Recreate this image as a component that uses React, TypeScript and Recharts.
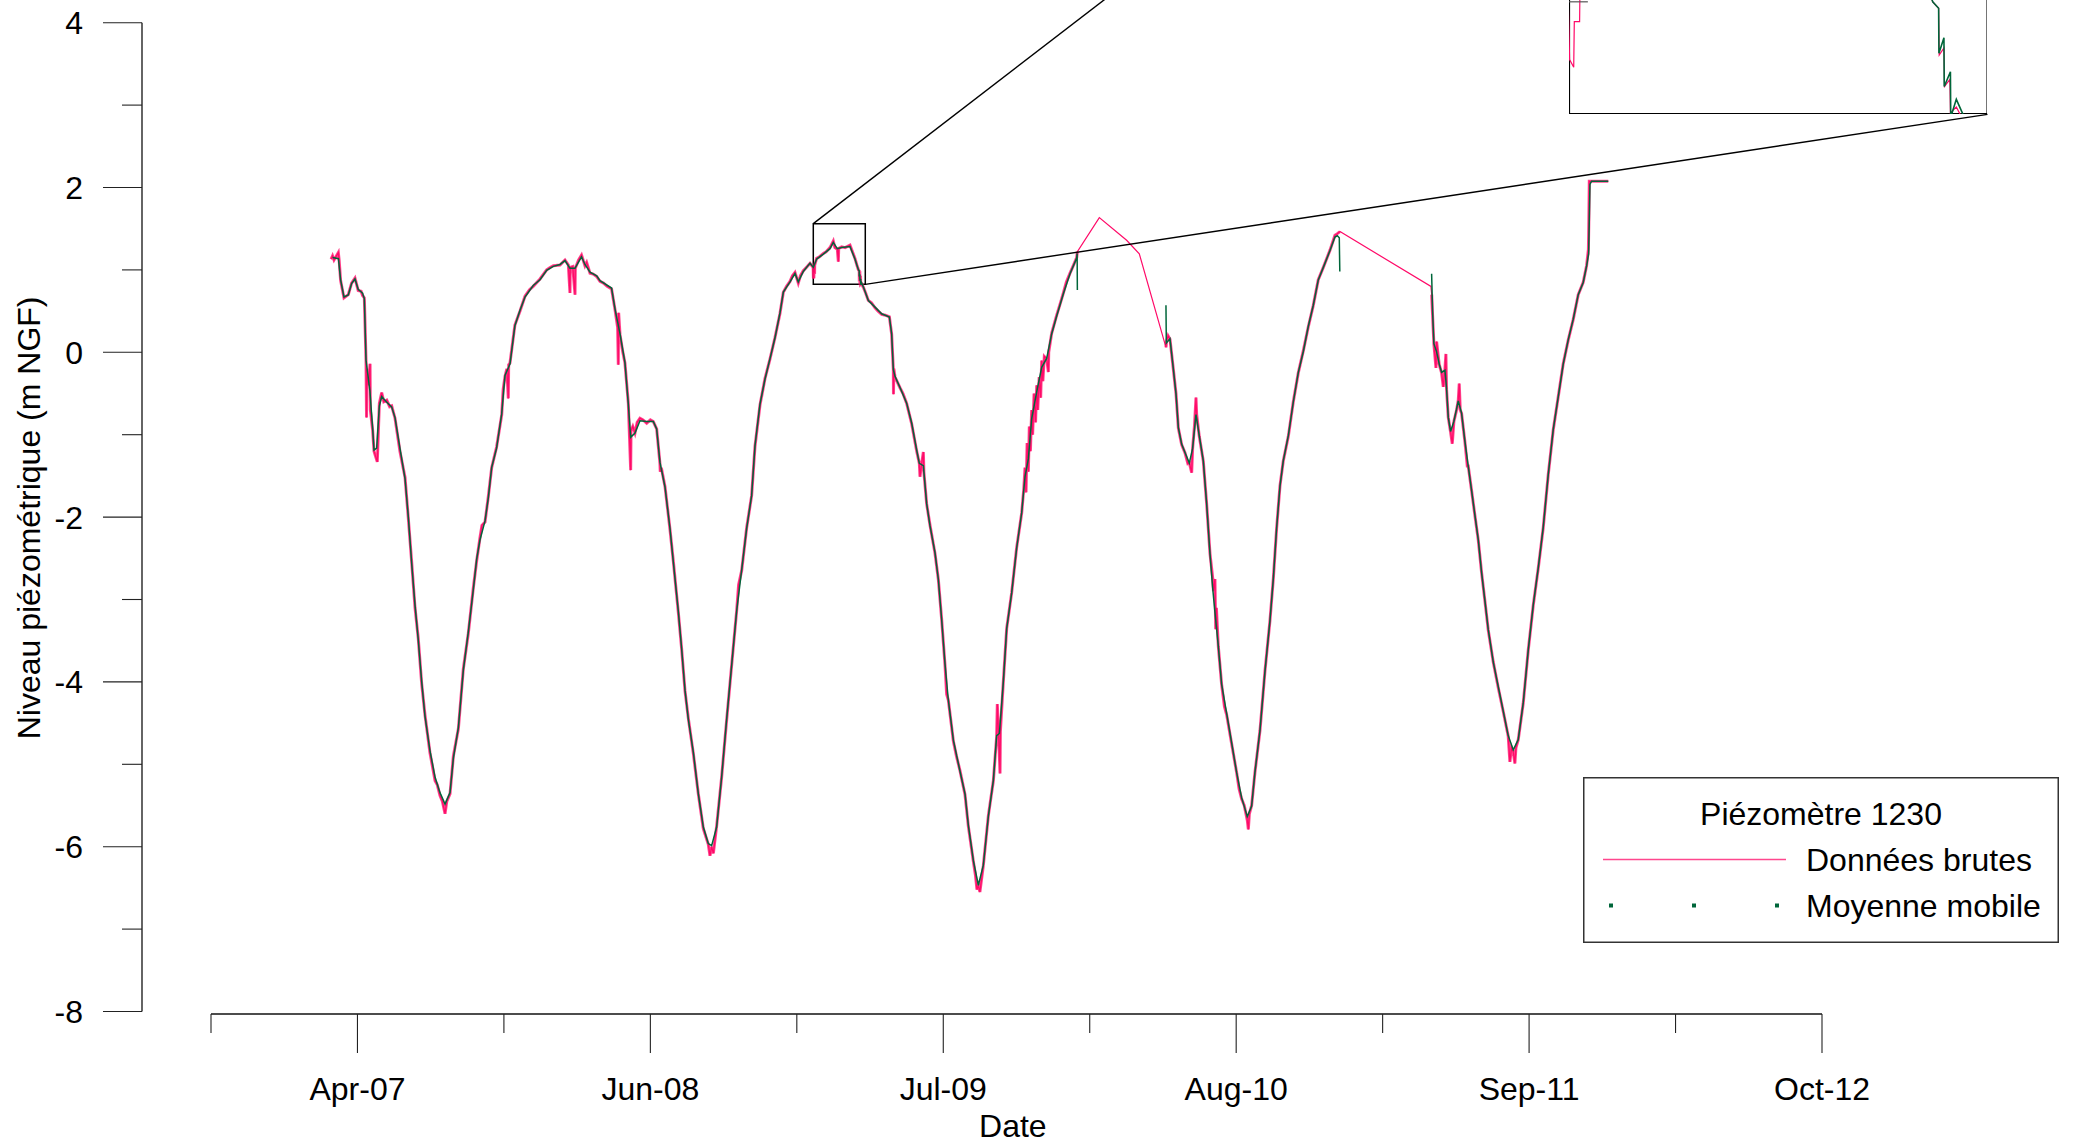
import { LineChart, Line, XAxis, YAxis, ReferenceLine, ReferenceArea, Legend } from 'recharts'

// axe des dates : jours comptés depuis le premier repère (un repère tous les 200 jours)
const X_TICKS = [0, 200, 400, 600, 800, 1000, 1200, 1400, 1600, 1800, 2000, 2200]
const X_LABELS = ['Apr-07', 'Jun-08', 'Jul-09', 'Aug-10', 'Sep-11', 'Oct-12']
const Y_TICKS = [-8, -7, -6, -5, -4, -3, -2, -1, 0, 1, 2, 3, 4]

// périodes sans mesures continues (pas de moyenne mobile)
const GAPS = [[1183.5, 1303.9], [1541.8, 1666.5]]

// [jour, niveau m NGF]
const MOYENNE = [
  [166, 1.15], [174, 1.136], [177, 0.88], [181.6, 0.671], [187.5, 0.695], [192, 0.834], [196.6, 0.89],
  [201, 0.764], [207, 0.718], [209.4, 0.648], [211.7, -0.095], [217, -0.467], [220.8, -0.931],
  [222.6, -1.187], [226.2, -1.164], [229.9, -0.653], [233.1, -0.536], [240, -0.606], [246.7, -0.662],
  [251.3, -0.792], [258, -1.164], [265, -1.535], [269.5, -2.0], [274, -2.557], [278.6, -3.068],
  [283, -3.486], [287.7, -3.997], [292.2, -4.415], [299, -4.833], [306, -5.158], [312.7, -5.344],
  [319.6, -5.483], [326.4, -5.344], [331, -4.926], [337.8, -4.554], [344.6, -3.857], [351.4, -3.393],
  [358.2, -2.882], [362.8, -2.511], [367.3, -2.278], [374.2, -2.046], [378.7, -1.767], [383.3, -1.396],
  [390, -1.164], [397, -0.745], [401.5, -0.281], [408.3, -0.142], [415, 0.323], [422, 0.509],
  [428.8, 0.671], [440, 0.811], [449.3, 0.88], [458.4, 0.996], [467.5, 1.043], [476.6, 1.066],
  [483.4, 1.113], [490.2, 1.02], [497, 1.02], [506, 1.159], [510.7, 1.066], [517.6, 0.973],
  [526.7, 0.927], [531.2, 0.87], [547, 0.78], [551.7, 0.528], [558.5, 0.226], [565.3, -0.126],
  [569.9, -0.629], [573.1, -1.031], [579, -0.981], [585.8, -0.83], [595, -0.84], [604, -0.84],
  [608.6, -0.931], [613.1, -1.333], [620, -1.635], [626.8, -2.138], [631.3, -2.541], [638.2, -3.145],
  [642.7, -3.597], [647.3, -4.1], [651.8, -4.452], [658.7, -4.855], [665.5, -5.358], [672.3, -5.761],
  [679.1, -5.962], [683.7, -5.987], [690.5, -5.761], [697.3, -5.157], [704.2, -4.452], [711, -3.798],
  [717.8, -3.144], [724.7, -2.641], [731.5, -2.138], [738.3, -1.736], [742.9, -1.132], [749.7, -0.629],
  [756.5, -0.327], [763.4, -0.076], [770.2, 0.176], [777, 0.478], [781.6, 0.73], [790.7, 0.855],
  [797.5, 0.956], [802, 0.855], [808.9, 0.981], [818, 1.082], [822.5, 1.031], [827.1, 1.132],
  [836.2, 1.192], [845.3, 1.258], [849.8, 1.333], [855.3, 1.258], [861.2, 1.273], [872.6, 1.283],
  [879.4, 1.132], [882, 1.06], [884.2, 1.0], [885.2, 0.99], [885.25, 0.92], [886.1, 0.944],
  [886.15, 0.868], [887.2, 0.891], [887.25, 0.82], [888.2, 0.848], [890.9, 0.792], [897.7, 0.629],
  [906.8, 0.548], [915.9, 0.467], [926.4, 0.429], [929.5, 0.223], [931.8, -0.21], [934.1, -0.292],
  [940.9, -0.427], [950, -0.617], [956.9, -0.861], [963.7, -1.186], [967.3, -1.348], [972.8, -1.375],
  [977.3, -1.836], [981.9, -2.107], [988.7, -2.432], [993.3, -2.757], [997.8, -3.245], [1002.4, -3.786],
  [1006.9, -4.22], [1013.8, -4.707], [1022.9, -5.087], [1029.7, -5.358], [1034.2, -5.737],
  [1041.1, -6.17], [1047.9, -6.468], [1054.7, -6.225], [1061.6, -5.628], [1068.4, -5.195],
  [1072.9, -4.653], [1076.6, -4.626], [1082, -4.003], [1086.6, -3.353], [1093.4, -2.92],
  [1100.2, -2.378], [1107.1, -1.944], [1111.6, -1.511], [1116.2, -1.294], [1120.7, -0.807],
  [1127.6, -0.481], [1134.4, -0.183], [1141.2, -0.075], [1148, 0.223], [1154.9, 0.44], [1164, 0.711],
  [1173.1, 0.954], [1182.2, 1.144], [1182.8, 1.2], [1183.1, 0.756],
  [1304.1, 0.571], [1304.6, 0.112], [1309.6, 0.163], [1314.1, -0.195], [1317.8, -0.501], [1321, -0.91],
  [1325.5, -1.114], [1330.1, -1.217], [1336, -1.344], [1340.5, -1.166], [1345.1, -0.757],
  [1349.6, -1.012], [1355.1, -1.318], [1359.6, -1.829], [1364.2, -2.442], [1367.8, -2.851],
  [1371, -3.157], [1375.6, -3.566], [1380.1, -4.026], [1387, -4.383], [1393.8, -4.741], [1400.6, -5.098],
  [1407.4, -5.405], [1415.2, -5.635], [1421.1, -5.507], [1425.6, -5.098], [1432.5, -4.588],
  [1439.3, -3.873], [1446.1, -3.26], [1450.7, -2.749], [1455.2, -2.136], [1459.8, -1.625],
  [1464.3, -1.318], [1471.2, -1.012], [1478, -0.603], [1484.8, -0.246], [1491.7, 0.01], [1498.5, 0.316],
  [1505.3, 0.571], [1512.1, 0.878], [1519, 1.031], [1528.1, 1.235], [1534.9, 1.399], [1538.1, 1.414],
  [1540.8, 1.389], [1541.5, 0.98],
  [1666.9, 0.954], [1668.2, 0.5], [1670, 0.104], [1673.7, 0.005], [1677.3, -0.143], [1680.5, -0.242],
  [1685.1, -0.218], [1687.3, -0.44], [1689.6, -0.787], [1692.8, -0.961], [1697.3, -0.837],
  [1703.3, -0.589], [1707.8, -0.738], [1712.4, -1.085], [1716.9, -1.382], [1721.5, -1.679],
  [1726, -1.976], [1730.6, -2.273], [1735.1, -2.67], [1739.7, -3.017], [1744.2, -3.363], [1751.1, -3.76],
  [1757.9, -4.057], [1764.7, -4.354], [1771.5, -4.651], [1778.4, -4.825], [1785.2, -4.701],
  [1792, -4.255], [1798.9, -3.611], [1805.7, -3.066], [1812.5, -2.62], [1819.3, -2.125],
  [1826.2, -1.481], [1833, -0.936], [1839.8, -0.54], [1846.6, -0.143], [1853.5, 0.154], [1860.3, 0.402],
  [1867.1, 0.699], [1873.9, 0.848], [1878.5, 1.046], [1881.3, 1.194], [1882.2, 1.591], [1883.1, 2.036],
  [1885.3, 2.076], [1908.1, 2.076],
]

const BRUTES = [
  [164, 1.13], [166, 1.17], [168, 1.12], [170, 1.15], [173.9, 1.21], [175, 1.12], [177, 0.87],
  [181.6, 0.66], [187.5, 0.7], [192, 0.84], [196.6, 0.9], [201, 0.75], [205, 0.74], [207, 0.69],
  [209.4, 0.66], [211.7, -0.1], [212.4, -0.79], [213, -0.2], [215, -0.4], [217.2, -0.14], [217.6, -0.7],
  [220.8, -0.95], [222.6, -1.2], [227.1, -1.33], [228, -1.1], [229.9, -0.62], [233.1, -0.49],
  [236, -0.6], [240, -0.58], [244, -0.66], [246.7, -0.65], [251.3, -0.8], [258, -1.2], [265, -1.52],
  [269.5, -2.02], [274, -2.54], [278.6, -3.1], [283, -3.47], [287.7, -4.02], [292.2, -4.4], [299, -4.86],
  [306, -5.2], [309, -5.25], [312.7, -5.38], [316, -5.45], [319.6, -5.6], [322, -5.45], [326.4, -5.36],
  [331, -4.9], [337.8, -4.57], [344.6, -3.84], [351.4, -3.41], [358.2, -2.86], [362.8, -2.53],
  [367.3, -2.25], [370, -2.1], [374.2, -2.06], [378.7, -1.75], [383.3, -1.4], [390, -1.15], [397, -0.76],
  [399, -0.45], [401.5, -0.29], [404, -0.2], [406, -0.56], [406.5, -0.15], [408.3, -0.13], [415, 0.33],
  [422, 0.5], [428.8, 0.68], [435, 0.76], [440, 0.8], [449.3, 0.89], [458.4, 1.0], [463, 1.03],
  [467.5, 1.05], [476.6, 1.06], [483.4, 1.12], [488, 1.06], [490.2, 0.72], [490.6, 1.03], [494, 1.04],
  [497.1, 0.7], [497.5, 1.02], [502, 1.12], [506, 1.18], [510.7, 1.05], [513, 1.09], [517.6, 0.96],
  [522, 0.95], [526.7, 0.92], [531.2, 0.86], [536, 0.84], [541, 0.8], [547, 0.77], [551.7, 0.52],
  [555.3, 0.3], [556.2, -0.15], [556.7, 0.48], [558.5, 0.22], [562, 0.02], [565.3, -0.13],
  [569.9, -0.62], [573.1, -1.43], [573.6, -0.95], [576, -0.9], [579, -0.98], [582, -0.85], [585.8, -0.8],
  [590, -0.82], [595, -0.86], [600, -0.82], [604, -0.84], [608.6, -0.93], [613.1, -1.35], [613.5, -1.45],
  [615, -1.4], [620, -1.63], [626.8, -2.15], [631.3, -2.53], [638.2, -3.16], [642.7, -3.6],
  [647.3, -4.11], [651.8, -4.44], [658.7, -4.87], [665.5, -5.36], [672.3, -5.78], [679.1, -5.97],
  [681.4, -6.11], [683.7, -6.0], [686, -6.08], [690.5, -5.75], [697.3, -5.16], [704.2, -4.46],
  [711, -3.8], [717.8, -3.14], [720.5, -2.82], [724.7, -2.65], [731.5, -2.13], [738.3, -1.74],
  [742.9, -1.14], [749.7, -0.64], [756.5, -0.32], [763.4, -0.08], [770.2, 0.18], [777, 0.47],
  [781.6, 0.73], [786, 0.8], [790.7, 0.86], [794, 0.93], [797.5, 0.97], [802, 0.84], [805, 0.93],
  [808.9, 0.99], [813, 1.03], [818, 1.08], [822.3, 1.03], [822.6, 0.91], [823.3, 0.898], [823.4, 0.969],
  [824.3, 0.969], [824.4, 1.06], [827.1, 1.14], [831, 1.16], [836.2, 1.2], [840, 1.22], [845.3, 1.27],
  [849.8, 1.35], [852, 1.27], [855.3, 1.25], [856.7, 1.1], [857.2, 1.26], [861.2, 1.28], [866, 1.27],
  [872.6, 1.3], [876, 1.22], [879.4, 1.14], [882, 1.06], [884.2, 1.0], [885.2, 0.99], [885.3, 0.917],
  [886.1, 0.928], [886.2, 0.868], [887.1, 0.879], [887.2, 0.827], [888.2, 0.836], [890.8, 0.79],
  [894, 0.72], [897.6, 0.63], [902, 0.6], [906.8, 0.54], [911, 0.5], [915.9, 0.46], [921, 0.45],
  [926.4, 0.43], [929.5, 0.22], [931.8, -0.21], [932, -0.51], [932.5, -0.2], [934.1, -0.3],
  [940.9, -0.43], [945, -0.5], [950, -0.62], [956.9, -0.87], [963.7, -1.2], [967.3, -1.35],
  [968.2, -1.51], [970.5, -1.35], [972.8, -1.21], [973.5, -1.45], [977.3, -1.84], [981.9, -2.1],
  [988.7, -2.44], [993.3, -2.76], [997.8, -3.24], [1002.4, -3.8], [1004.6, -4.15], [1006.9, -4.22],
  [1013.8, -4.72], [1018, -4.9], [1022.9, -5.08], [1029.7, -5.37], [1034.2, -5.75], [1041.1, -6.18],
  [1044, -6.35], [1046, -6.52], [1047.9, -6.47], [1050, -6.55], [1054.7, -6.23], [1061.6, -5.62],
  [1068.4, -5.2], [1072.9, -4.66], [1073.8, -4.27], [1075.5, -4.62], [1077.5, -5.11], [1078, -4.6],
  [1082, -4.0], [1086.6, -3.35], [1093.4, -2.92], [1100.2, -2.37], [1107.1, -1.95], [1110, -1.65],
  [1111.6, -1.4], [1113, -1.7], [1114.5, -1.1], [1116.2, -1.45], [1117.5, -0.9], [1119, -1.2],
  [1120.7, -0.7], [1122, -1.0], [1124, -0.5], [1126, -0.85], [1127.6, -0.4], [1129, -0.7], [1131, -0.3],
  [1133, -0.55], [1134.4, -0.1], [1136, -0.35], [1138, -0.05], [1141.2, -0.08], [1143.5, -0.24],
  [1144, 0.0], [1148, 0.23], [1154.9, 0.45], [1160, 0.6], [1164, 0.72], [1168, 0.85], [1173.1, 0.96],
  [1178, 1.06], [1182.2, 1.15], [1183.1, 1.22],
  [1213.1, 1.634], [1250.4, 1.36], [1267.7, 1.195],
  [1304.1, 0.06], [1305, 0.14], [1307, 0.2], [1309.6, 0.16], [1314.1, -0.2], [1317.8, -0.5],
  [1321, -0.92], [1325.5, -1.12], [1330.1, -1.22], [1334, -1.35], [1336, -1.34], [1339.2, -1.46],
  [1340.5, -1.17], [1343, -0.9], [1345.1, -0.55], [1346, -0.75], [1349.6, -1.02], [1355.1, -1.32],
  [1359.6, -1.83], [1364.2, -2.44], [1367.8, -2.73], [1369, -2.9], [1371, -2.75], [1372, -3.36],
  [1373, -3.1], [1375.6, -3.57], [1380.1, -4.03], [1384, -4.3], [1387, -4.4], [1393.8, -4.75],
  [1400.6, -5.1], [1404, -5.3], [1407.4, -5.42], [1411, -5.5], [1415.2, -5.68], [1416.6, -5.79],
  [1418, -5.6], [1421.1, -5.5], [1425.6, -5.1], [1432.5, -4.59], [1439.3, -3.87], [1446.1, -3.26],
  [1450.7, -2.75], [1455.2, -2.14], [1459.8, -1.62], [1464.3, -1.32], [1471.2, -1.02], [1478, -0.6],
  [1484.8, -0.25], [1491.7, 0.02], [1498.5, 0.31], [1505.3, 0.57], [1512.1, 0.88], [1519, 1.03],
  [1528.1, 1.24], [1534.9, 1.42], [1538.1, 1.44], [1541.7, 1.465],
  [1666, 0.8],
  [1667, 0.7], [1668.2, 0.45], [1670, 0.1], [1672.8, -0.19], [1673.7, 0.13], [1677.3, -0.15],
  [1680.5, -0.25], [1682.8, -0.42], [1685.1, -0.2], [1686.4, -0.02], [1687.3, -0.45], [1689.6, -0.79],
  [1692.8, -0.97], [1695.1, -1.11], [1697.3, -0.84], [1701, -0.7], [1703.3, -0.58], [1704.6, -0.38],
  [1706, -0.7], [1707.8, -0.74], [1712.4, -1.09], [1715.6, -1.38], [1716.9, -1.38], [1721.5, -1.68],
  [1726, -1.98], [1730.6, -2.28], [1735.1, -2.67], [1739.7, -3.02], [1744.2, -3.37], [1751.1, -3.76],
  [1757.9, -4.07], [1764.7, -4.36], [1771.5, -4.66], [1773.8, -4.97], [1776, -4.8], [1778.4, -4.85],
  [1780.6, -4.99], [1782, -4.8], [1785.2, -4.7], [1792, -4.26], [1798.9, -3.61], [1805.7, -3.07],
  [1812.5, -2.62], [1819.3, -2.13], [1826.2, -1.48], [1833, -0.94], [1839.8, -0.54], [1846.6, -0.14],
  [1853.5, 0.15], [1860.3, 0.4], [1867.1, 0.7], [1873.9, 0.85], [1878.5, 1.05], [1881, 1.25],
  [1881.6, 1.6], [1882.2, 2.076], [1885.3, 2.076], [1908.1, 2.076],
]

const PINK = '#FF0A68'
const GREEN = '#00663A'
const FONT = '"Liberation Sans", Arial, Helvetica, sans-serif'

// géométrie de la zone de tracé (px)
const W = 2076
const H = 1145
const PLOT_TOP = 22.7
const PLOT_BOTTOM = 1011.5
const PLOT_LEFT = 142
const PLOT_RIGHT = 2000
const TICK0_PX = 211
const TICKN_PX = 1822
const K = (TICKN_PX - TICK0_PX) / 2200
const X_MIN = -(TICK0_PX - PLOT_LEFT) / K
const X_MAX = (PLOT_RIGHT - TICK0_PX) / K
const Y_MIN = -8
const Y_MAX = 4
const VK = (PLOT_BOTTOM - PLOT_TOP) / (Y_MAX - Y_MIN)
const xPx = (d: number) => TICK0_PX + d * K
const yPx = (v: number) => PLOT_TOP + (Y_MAX - v) * VK

// fenêtre zoomée et position de l'encart (unités du graphique)
const ZOOM = { x1: 822.5, x2: 893.5, y1: 0.825, y2: 1.561 }
const INSET = { x1: 1854.4, x2: 2426, y1: 2.888, y2: 8.617 }

const inGap = (d: number) => GAPS.some(([a, b]) => d > a && d < b)
const gapBreaks = GAPS.map(([a, b]) => ({ d: (a + b) / 2, v: null as number | null }))
const byDay = (p: { d: number }, q: { d: number }) => p.d - q.d

const maData = [...MOYENNE.map(([d, v]) => ({ d, v: v as number | null })), ...gapBreaks].sort(byDay)
const rawData = BRUTES.map(([d, v]) => ({ d, v }))
// bande de bruit : uniquement là où les mesures sont continues
const bandData = [
  ...BRUTES.filter(([d]) => !inGap(d)).map(([d, v]) => ({ d, v: v as number | null })),
  ...gapBreaks,
].sort(byDay)

function XTick(props: any) {
  const { x, y, payload } = props
  const i = X_TICKS.indexOf(payload.value)
  const major = i % 2 === 1
  return (
    <g>
      <line x1={x} x2={x} y1={y + 2.5} y2={y + 2.5 + (major ? 39 : 19)} stroke="#222" strokeWidth={1.1} />
      {major && (
        <text x={x} y={y + 88} textAnchor="middle" fontFamily={FONT} fontSize={32} fill="#000">
          {X_LABELS[(i - 1) / 2]}
        </text>
      )}
    </g>
  )
}

function YTick(props: any) {
  const { x, y, payload } = props
  const major = payload.value % 2 === 0
  return (
    <g>
      <line x1={x - (major ? 39 : 20)} x2={x} y1={y} y2={y} stroke="#222" strokeWidth={1.1} />
      {major && (
        <text x={x - 59} y={y + 11.5} textAnchor="end" fontFamily={FONT} fontSize={32} fill="#000">
          {payload.value}
        </text>
      )}
    </g>
  )
}

function LegendBox({ payload }: any) {
  const items = (payload || []).filter((p: any) => p.type !== 'none')
  return (
    <svg width={476} height={166} style={{ display: 'block' }}>
      <rect x={0.75} y={0.75} width={474.5} height={164.5} fill="#fff" stroke="#333" strokeWidth={1.5} />
      <text x={238} y={48} textAnchor="middle" fontFamily={FONT} fontSize={32} fill="#000">
        Piézomètre 1230
      </text>
      {items.map((p: any, i: number) => {
        const ly = 82.5 + i * 46
        return (
          <g key={p.value}>
            {i === 0 ? (
              <line x1={20} x2={203} y1={ly} y2={ly} stroke={p.color} strokeWidth={1.4} strokeOpacity={0.75} />
            ) : (
              <line x1={26} x2={200} y1={ly} y2={ly} stroke={p.color} strokeWidth={4} strokeDasharray="4 79" />
            )}
            <text x={223} y={ly + 11.5} fontFamily={FONT} fontSize={32} fill="#000">
              {p.value}
            </text>
          </g>
        )
      })}
    </svg>
  )
}

export default function App() {
  const insetLeft = xPx(INSET.x1)
  const insetTop = yPx(INSET.y2)
  const insetW = xPx(INSET.x2) - insetLeft
  const insetH = yPx(INSET.y1) - insetTop

  return (
    <div
      style={{
        position: 'absolute', left: 0, top: 0, width: W, height: H,
        overflow: 'hidden', background: '#fff', fontFamily: FONT,
      }}
    >
      <LineChart width={W} height={H} margin={{ top: PLOT_TOP, right: W - PLOT_RIGHT, bottom: 0, left: 0 }}>
        <XAxis
          dataKey="d" type="number" domain={[X_MIN, X_MAX]} ticks={X_TICKS} interval={0}
          axisLine={false} tickLine={false} tickSize={0} tickMargin={0} height={H - PLOT_BOTTOM}
          tick={XTick}
          label={() => (
            <text x={xPx(1095)} y={1137} textAnchor="middle" fontFamily={FONT} fontSize={32} fill="#000">
              Date
            </text>
          )}
        />
        <YAxis
          type="number" domain={[Y_MIN, Y_MAX]} ticks={Y_TICKS} interval={0} width={PLOT_LEFT}
          axisLine={{ stroke: '#111', strokeWidth: 1.3 }} tickLine={false} tickSize={0} tickMargin={0}
          tick={YTick}
          label={() => (
            <text
              transform={`translate(40, ${yPx(-2.01)}) rotate(-90)`} textAnchor="middle"
              fontFamily={FONT} fontSize={32} fill="#000"
            >
              Niveau piézométrique (m NGF)
            </text>
          )}
        />
        <ReferenceLine
          segment={[{ x: 0, y: Y_MIN - 2.5 / VK }, { x: 2200, y: Y_MIN - 2.5 / VK }]}
          stroke="#111" strokeWidth={1.3} ifOverflow="visible"
        />
        <Line
          data={bandData} dataKey="v" type="linear" stroke={PINK} strokeWidth={3} strokeOpacity={0.75}
          dot={false} activeDot={false} legendType="none" isAnimationActive={false}
        />
        <Line
          data={rawData} dataKey="v" name="Données brutes" type="linear" stroke={PINK} strokeWidth={1.2}
          dot={false} activeDot={false} isAnimationActive={false}
        />
        <Line
          data={maData} dataKey="v" name="Moyenne mobile" type="linear" stroke={GREEN} strokeWidth={1.5}
          dot={false} activeDot={false} isAnimationActive={false}
        />
        <ReferenceArea
          x1={ZOOM.x1} x2={ZOOM.x2} y1={ZOOM.y1} y2={ZOOM.y2}
          fill="none" fillOpacity={0} stroke="#000" strokeWidth={1.5} ifOverflow="visible"
        />
        <ReferenceLine
          segment={[{ x: ZOOM.x1, y: ZOOM.y2 }, { x: INSET.x1, y: INSET.y2 }]}
          stroke="#000" strokeWidth={1.4} ifOverflow="visible"
        />
        <ReferenceLine
          segment={[{ x: ZOOM.x2, y: ZOOM.y1 }, { x: INSET.x2, y: INSET.y1 }]}
          stroke="#000" strokeWidth={1.4} ifOverflow="visible"
        />
        <Legend
          layout="vertical" align="center" verticalAlign="middle"
          wrapperStyle={{ position: 'absolute', left: 1583, top: 777, width: 476, height: 166 }}
          content={LegendBox}
        />
      </LineChart>

      <div style={{ position: 'absolute', left: insetLeft, top: insetTop, width: insetW, height: insetH }}>
        <LineChart width={insetW} height={insetH} margin={{ top: 0, right: 0, bottom: 0, left: 0 }}>
          <XAxis dataKey="d" type="number" domain={[ZOOM.x1, ZOOM.x2]} allowDataOverflow hide />
          <YAxis type="number" domain={[ZOOM.y1, ZOOM.y2]} allowDataOverflow hide />
          <Line
            data={rawData} dataKey="v" type="linear" stroke={PINK} strokeWidth={1.2}
            dot={false} activeDot={false} isAnimationActive={false}
          />
          <Line
            data={maData} dataKey="v" type="linear" stroke={GREEN} strokeWidth={1.6}
            dot={false} activeDot={false} isAnimationActive={false}
          />
          <ReferenceLine
            segment={[{ x: ZOOM.x1, y: 1 }, { x: ZOOM.x1 + 3.2, y: 1 }]}
            stroke="#555" strokeWidth={1.2} ifOverflow="visible"
          />
          <ReferenceArea
            x1={ZOOM.x1} x2={ZOOM.x2} y1={ZOOM.y1} y2={ZOOM.y2}
            fill="none" fillOpacity={0} stroke="#000" strokeWidth={2.2}
          />
        </LineChart>
      </div>
    </div>
  )
}
